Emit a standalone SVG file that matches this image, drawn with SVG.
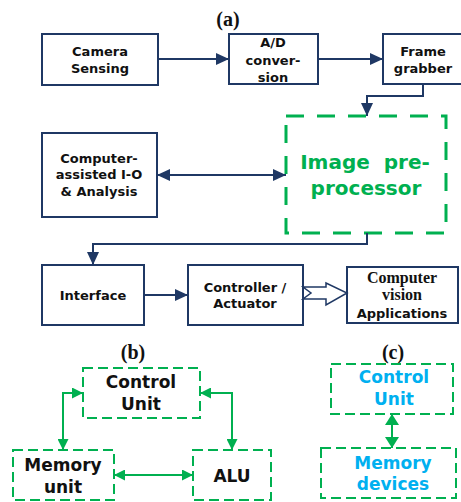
<svg xmlns="http://www.w3.org/2000/svg" width="461" height="502" viewBox="0 0 461 502">
<style>
.nb{fill:#fff;stroke:#1F3864;stroke-width:2}
.gb{fill:#fff;stroke:#00B050;stroke-width:2;stroke-dasharray:10 5}
.gbig{fill:#fff;stroke:#00B050;stroke-width:3;stroke-dasharray:18 13}
.t{font-family:"DejaVu Sans",sans-serif;font-weight:bold;font-size:13px;fill:#111;text-anchor:middle}
.ts{font-family:"Liberation Serif",serif;font-weight:bold;font-size:16px;fill:#111;text-anchor:middle}
.tb{font-family:"DejaVu Sans",sans-serif;font-weight:bold;font-size:17px;fill:#111;text-anchor:middle}
.tc{font-family:"DejaVu Sans",sans-serif;font-weight:bold;font-size:17px;fill:#00B0F0;text-anchor:middle}
.tg{font-family:"DejaVu Sans",sans-serif;font-weight:bold;font-size:20px;fill:#00B050;text-anchor:middle;white-space:pre}
.lab{font-family:"Liberation Serif",serif;font-weight:bold;font-size:20px;fill:#111;text-anchor:middle}
.nc{fill:none;stroke:#1F3864;stroke-width:2}
.gc{fill:none;stroke:#00B050;stroke-width:2}
</style>
<defs>
<marker id="na" markerUnits="userSpaceOnUse" markerWidth="13" markerHeight="12" refX="13" refY="6" orient="auto-start-reverse"><path d="M0,0 L13,6 L0,12 z" fill="#1F3864"/></marker>
<marker id="ga" markerUnits="userSpaceOnUse" markerWidth="11" markerHeight="11" refX="11" refY="5.5" orient="auto-start-reverse"><path d="M0,0 L11,5.5 L0,11 z" fill="#00B050"/></marker>
<marker id="gb" markerUnits="userSpaceOnUse" markerWidth="11" markerHeight="14" refX="11" refY="7" orient="auto-start-reverse"><path d="M0,0 L11,7 L0,14 z" fill="#00B050"/></marker>
</defs>
<text class="lab" x="228" y="26">(a)</text>
<text class="lab" x="133" y="359">(b)</text>
<text class="lab" x="393" y="359">(c)</text>
<g id="camera"><rect class="nb" x="42" y="34" width="116" height="51"/><text class="t" x="100" y="56">Camera</text><text class="t" x="100" y="73">Sensing</text></g>
<g id="ad"><rect class="nb" x="229" y="34" width="89" height="50"/><text class="t" x="273" y="47">A/D</text><text class="t" x="273" y="65">conver-</text><text class="t" x="273" y="82">sion</text></g>
<g id="frame"><rect class="nb" x="383" y="34" width="80" height="50"/><text class="t" x="423" y="56">Frame</text><text class="t" x="423" y="73">grabber</text></g>
<g id="computer-assisted"><rect class="nb" x="42" y="133" width="115" height="84"/><text class="t" x="99" y="163">Computer-</text><text class="t" x="99" y="179">assisted I-O</text><text class="t" x="99" y="196">&amp; Analysis</text></g>
<g id="image"><rect class="gbig" x="286" y="116" width="160" height="117"/><text class="tg" x="365" y="169">Image  pre-</text><text class="tg" x="366" y="195">processor</text></g>
<g id="interface"><rect class="nb" x="42" y="265" width="102" height="60"/><text class="t" x="93" y="300">Interface</text></g>
<g id="controller"><rect class="nb" x="188" y="265" width="115" height="60"/><text class="t" x="245" y="292">Controller /</text><text class="t" x="245" y="308">Actuator</text></g>
<g id="cv"><rect class="nb" x="347" y="267" width="111" height="56"/><text class="ts" x="402" y="283">Computer</text><text class="ts" x="402" y="300">vision</text><text class="t" x="402" y="318">Applications</text></g>
<g id="b-control"><rect class="gb" x="83" y="368" width="117" height="50"/><text class="tb" x="141" y="388">Control</text><text class="tb" x="141" y="410">Unit</text></g>
<g id="b-memory"><rect class="gb" x="13" y="450" width="101" height="50"/><text class="tb" x="63" y="471">Memory</text><text class="tb" x="63" y="493">unit</text></g>
<g id="b-alu"><rect class="gb" x="193" y="450" width="78" height="50"/><text class="tb" x="232" y="482">ALU</text></g>
<g id="c-control"><rect class="gb" x="331" y="364" width="122" height="50"/><text class="tc" x="394" y="383">Control</text><text class="tc" x="394" y="405">Unit</text></g>
<g id="c-memory"><rect class="gb" x="321" y="448" width="135" height="50"/><text class="tc" x="393" y="469">Memory</text><text class="tc" x="393" y="490">devices</text></g>
<g id="connectors">
<path class="nc" d="M158,59 H229" marker-end="url(#na)"/>
<path class="nc" d="M318,59 H383" marker-end="url(#na)"/>
<path class="nc" d="M423,84 V96 H367 V116" marker-end="url(#na)"/>
<path class="nc" d="M157,175 H286" marker-start="url(#na)" marker-end="url(#na)"/>
<path class="nc" d="M367,233 V244 H93 V265" marker-end="url(#na)"/>
<path class="nc" d="M144,295 H188" marker-end="url(#na)"/>
<polygon points="303,287 326,287 326,283 347,293 326,305 326,299 303,299 311,293" fill="#fff" stroke="#1F3864" stroke-width="1.5"/>
<path class="gc" d="M83,393 H63 V450" marker-start="url(#ga)" marker-end="url(#ga)"/>
<path class="gc" d="M200,393 H232 V450" marker-start="url(#ga)" marker-end="url(#ga)"/>
<path class="gc" d="M114,475 H193" marker-start="url(#ga)" marker-end="url(#ga)"/>
<path class="gc" d="M392,414 V448" stroke-width="3" marker-start="url(#gb)" marker-end="url(#gb)"/>
</g>
</svg>
